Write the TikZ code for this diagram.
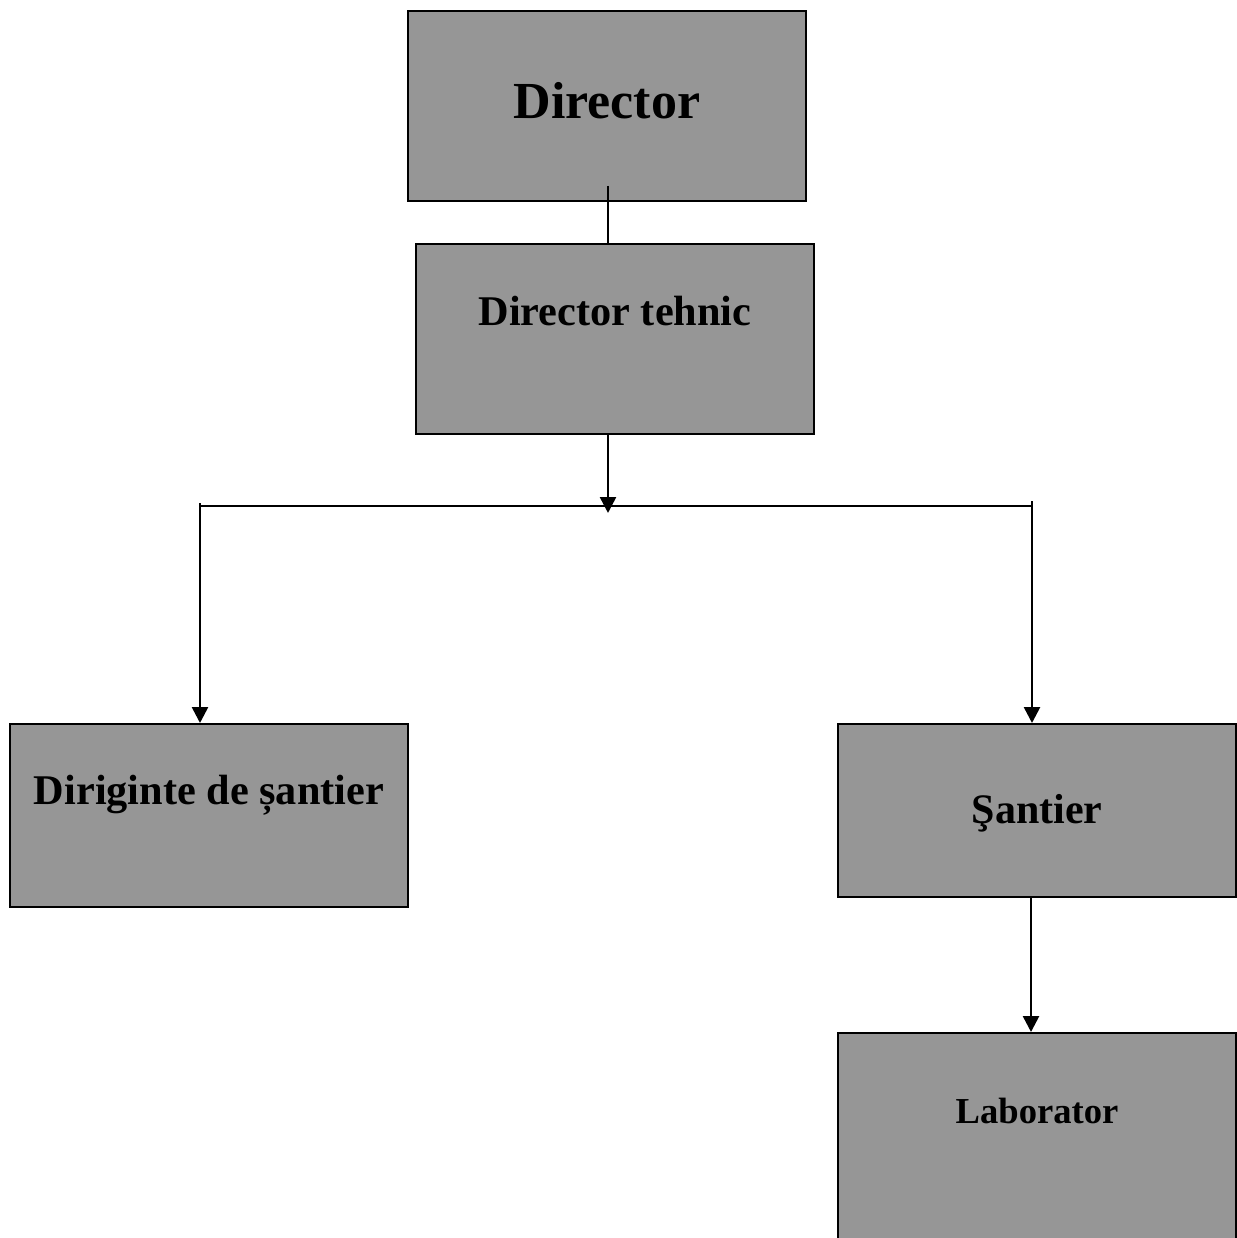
\documentclass[tikz,border=0pt]{standalone}
\usepackage{fontspec}
\setmainfont{Liberation Serif}
\usetikzlibrary{arrows.meta}
\definecolor{boxgray}{RGB}{150,150,150}
\tikzstyle{post}=[rectangle, anchor=north, draw, line width=2pt, fill=boxgray, inner sep=0pt, minimum width=398pt, font=\bfseries]
\tikzstyle{link}=[-, line width=2.6pt]
\tikzstyle{edge}=[line width=2.6pt, -{Triangle[length=16pt,width=16pt]}]
\tikzstyle{bus}=[-, line width=1.8pt]

\begin{document}
\begin{tikzpicture}[x=1pt, y=-1pt]
				\useasboundingbox (0,0) rectangle (1236,1238);
				
				%The boxes
				\draw (607,10) node[post, text height=108pt, text depth=82pt, font=\bfseries\fontsize{52}{58}\selectfont] (dir) {Director};
				\draw (615,243) node[post, text height=81pt, text depth=109pt, font=\bfseries\fontsize{42.3}{48}\selectfont] (tech) {Director tehnic};
				\draw (209,723) node[post, text height=80pt, text depth=103pt, font=\bfseries\fontsize{42.3}{48}\selectfont] (dirig) {Diriginte de șantier};
				\draw (1037,723) node[post, text height=99pt, text depth=74pt, font=\bfseries\fontsize{42}{48}\selectfont] (sant) {Şantier};
				\draw (1037,1032) node[post, text height=90pt, text depth=128pt, font=\bfseries\fontsize{36.6}{42}\selectfont] (lab) {Laborator};
				
				%The split points
				\coordinate (split) at (608,513);
				\coordinate (bl) at (200,503);
				\coordinate (br) at (1032,501);
				\coordinate (hl) at (200,506);
				\coordinate (hr) at (1032,506);
				
				\draw[link] (608,186) -- (tech.north -| 608,0);
				\draw[edge] (tech.south -| split) -- (split);
				\draw[bus] (hl) -- (hr);
				\draw[edge] (bl) -- (bl |- dirig.north);
				\draw[edge] (br) -- (br |- sant.north);
				\draw[edge] (sant.south -| 1031,0) -- (lab.north -| 1031,0);
\end{tikzpicture}
\end{document}
